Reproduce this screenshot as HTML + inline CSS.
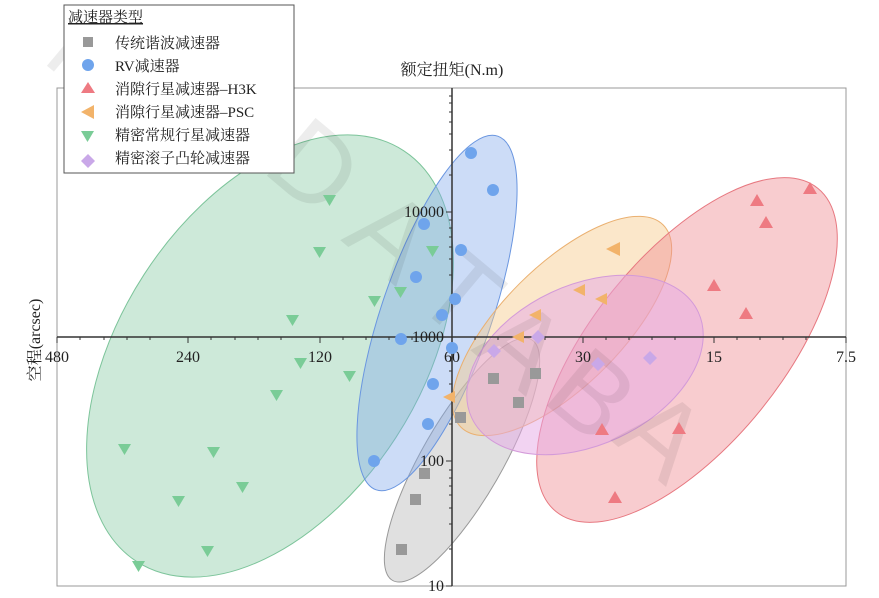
<!DOCTYPE html><html><head><meta charset="utf-8"><style>html,body{margin:0;background:#fff;width:879px;height:598px;overflow:hidden}svg{display:block}svg text{font-family:"Liberation Serif","Noto Serif CJK SC",serif}svg text.wm{font-family:"Liberation Sans",sans-serif}</style></head><body>
<svg width="879" height="598" xmlns="http://www.w3.org/2000/svg" style="overflow:hidden">
<rect x="57" y="88" width="789" height="498" fill="none" stroke="#999" stroke-width="1"/>
<g stroke-width="1">
<ellipse cx="270" cy="356" rx="245" ry="150" transform="rotate(-57 270 356)" fill="#9bd3b3" fill-opacity="0.5" stroke="#7cc49a"/>
<ellipse cx="462" cy="460" rx="139" ry="40" transform="rotate(-60 462 460)" fill="#bbb" fill-opacity="0.45" stroke="#999"/>
<ellipse cx="437" cy="313" rx="187" ry="55" transform="rotate(-71 437 313)" fill="#7fa8ec" fill-opacity="0.4" stroke="#6a96e0"/>
<ellipse cx="562" cy="326" rx="143" ry="60" transform="rotate(-45 562 326)" fill="#f6c98a" fill-opacity="0.45" stroke="#eab070"/>
<ellipse cx="687" cy="350" rx="208" ry="95" transform="rotate(-51 687 350)" fill="#f08f95" fill-opacity="0.45" stroke="#e77880"/>
<ellipse cx="585" cy="365" rx="125" ry="80" transform="rotate(-25 585 365)" fill="#e6a8e6" fill-opacity="0.5" stroke="#d39ad9"/>
</g>
<g font-size="110" fill="#000" fill-opacity="0.07">
<text class="wm" transform="translate(40,60) rotate(40)">M</text>
<text class="wm" transform="translate(260,170) rotate(40)">D</text>
<text class="wm" transform="translate(340,240) rotate(40)">A</text>
<text class="wm" transform="translate(410,300) rotate(40)">T</text>
<text class="wm" transform="translate(470,350) rotate(40)">A</text>
<text class="wm" transform="translate(540,400) rotate(40)">B</text>
<text class="wm" transform="translate(610,440) rotate(40)">A</text>
</g>
<line x1="57" y1="337" x2="846" y2="337" stroke="#333" stroke-width="1.5"/>
<line x1="452" y1="88" x2="452" y2="586" stroke="#333" stroke-width="1.5"/>
<g stroke="#333"><path d="M57 337v6M188 337v6M320 337v6M452 337v6M583 337v6M714 337v6M846 337v6M80 337v3M104 337v3M127 337v3M150 337v3M211 337v3M235 337v3M258 337v3M281 337v3M343 337v3M366 337v3M389 337v3M412 337v3M475 337v3M498 337v3M521 337v3M545 337v3M606 337v3M629 337v3M652 337v3M675 337v3M737 337v3M760 337v3M783 337v3M806 337v3"/>
<path d="M452 212h-6M452 461h-6M452 586h-6M452 549h-3M452 524h-3M452 508h-3M452 495h-3M452 486h-3M452 478h-3M452 470h-3M452 424h-3M452 399h-3M452 384h-3M452 371h-3M452 361h-3M452 353h-3M452 345h-3M452 300h-3M452 275h-3M452 259h-3M452 247h-3M452 237h-3M452 228h-3M452 220h-3M452 175h-3M452 150h-3M452 134h-3M452 122h-3M452 112h-3M452 103h-3M452 96h-3"/></g>
<g font-size="16" fill="#222" text-anchor="middle">
<text x="57" y="362">480</text><text x="188" y="362">240</text><text x="320" y="362">120</text><text x="452" y="362">60</text><text x="583" y="362">30</text><text x="714" y="362">15</text><text x="846" y="362">7.5</text>
<g text-anchor="end"><text x="444" y="217">10000</text><text x="444" y="342">1000</text><text x="444" y="466">100</text><text x="444" y="591">10</text></g>
<text x="452" y="75" font-size="16">额定扭矩(N.m)</text>
<text transform="translate(40,340) rotate(-90)" font-size="16">空程(arcsec)</text>
</g>
<g fill="#999"><rect x="396" y="544" width="11" height="11"/><rect x="410" y="494" width="11" height="11"/><rect x="419" y="468" width="11" height="11"/><rect x="455" y="412" width="11" height="11"/><rect x="488" y="373" width="11" height="11"/><rect x="513" y="397" width="11" height="11"/><rect x="530" y="368" width="11" height="11"/></g>
<g fill="#6fa4ec"><circle cx="374" cy="461" r="6"/><circle cx="428" cy="424" r="6"/><circle cx="433" cy="384" r="6"/><circle cx="401" cy="339" r="6"/><circle cx="442" cy="315" r="6"/><circle cx="455" cy="299" r="6"/><circle cx="416" cy="277" r="6"/><circle cx="461" cy="250" r="6"/><circle cx="424" cy="224" r="6"/><circle cx="493" cy="190" r="6"/><circle cx="471" cy="153" r="6"/><circle cx="452" cy="348" r="6"/></g>
<g fill="#ee7a82"><path d="M810 182l7 12h-14z M757 194l7 12h-14z M766 216l7 12h-14z M714 279l7 12h-14z M746 307l7 12h-14z M602 423l7 12h-14z M679 422l7 12h-14z M615 491l7 12h-14z"/></g>
<g fill="#f2b36a"><path d="M606 249l14 -7v14z M573 290l12 -6v12z M595 299l12 -6v12z M529 315l12 -6v12z M512 337l12 -6v12z M443 397l12 -6v12z"/></g>
<g fill="#7acc97"><path d="M323 195h13l-6.5 11z M313 247h13l-6.5 11z M394 287h13l-6.5 11z M368 296h13l-6.5 11z M286 315h13l-6.5 11z M294 358h13l-6.5 11z M343 371h13l-6.5 11z M270 390h13l-6.5 11z M118 444h13l-6.5 11z M207 447h13l-6.5 11z M236 482h13l-6.5 11z M172 496h13l-6.5 11z M201 546h13l-6.5 11z M132 561h13l-6.5 11z M426 246h13l-6.5 11z"/></g>
<g fill="#c9a8e8"><path d="M494 344l7 7-7 7-7-7z M538 330l7 7-7 7-7-7z M650 351l7 7-7 7-7-7z M598 357l7 7-7 7-7-7z"/></g>
<rect x="64" y="5" width="230" height="168" fill="#fff" stroke="#555"/>
<g font-size="15" fill="#222">
<text x="68" y="22" text-decoration="underline">减速器类型</text>
<rect x="83" y="37" width="10" height="10" fill="#999"/><text x="115" y="48">传统谐波减速器</text>
<circle cx="88" cy="65" r="6" fill="#6fa4ec"/><text x="115" y="71">RV减速器</text>
<path d="M88 82l7 11h-14z" fill="#ee7a82"/><text x="115" y="94">消隙行星减速器–H3K</text>
<path d="M81 112l13 -7v14z" fill="#f2b36a"/><text x="115" y="117">消隙行星减速器–PSC</text>
<path d="M81 131h13l-6.5 11z" fill="#7acc97"/><text x="115" y="140">精密常规行星减速器</text>
<path d="M88 154l7 7-7 7-7-7z" fill="#c9a8e8"/><text x="115" y="163">精密滚子凸轮减速器</text>
</g>
</svg></body></html>
